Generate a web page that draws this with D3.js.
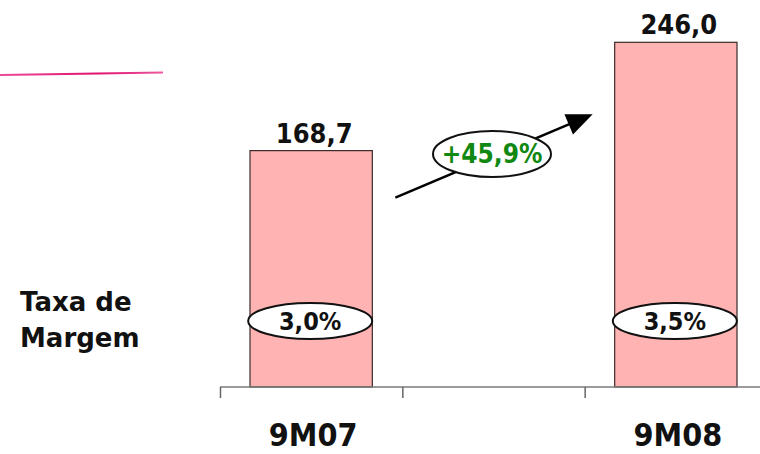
<!DOCTYPE html>
<html><head><meta charset="utf-8">
<script src="https://cdn.jsdelivr.net/npm/d3@7"></script>
<style>
html,body{margin:0;padding:0;background:#fff;}
svg{display:block;}
text{font-weight:bold;}
</style></head>
<body>
<svg id="chart" width="760" height="454"></svg>
<script>
const categories = ["9M07", "", "9M08"];
const values = [168.7, null, 246.0];
const valueLabels = ["168,7", "", "246,0"];
const margins = ["3,0%", "", "3,5%"];
const growthLabel = "+45,9%";
const rowLabel = ["Taxa de", "Margem"];

const svg = d3.select("#chart");
const W = 760, H = 454;
const base = 387;
const COND = "'DejaVu Sans Condensed','DejaVu Sans',sans-serif";

const x = d3.scaleBand().domain(categories).range([220, 767]).padding(0);
const y = d3.scaleLinear().domain([0, 250]).range([base, 36.7]);
const inset = 30;

// decorative pink line
const defs = svg.append("defs");
const grad = defs.append("linearGradient").attr("id","pg");
grad.append("stop").attr("offset","0%").attr("stop-color","#ec4a96");
grad.append("stop").attr("offset","60%").attr("stop-color","#e0106e");
grad.append("stop").attr("offset","100%").attr("stop-color","#ec5aa0");
svg.append("line").attr("x1",0).attr("y1",75).attr("x2",163).attr("y2",72.5)
  .attr("stroke","url(#pg)").attr("stroke-width",2);

const data = categories.map((c,i)=>({c, v: values[i], lab: valueLabels[i], m: margins[i]})).filter(d=>d.v!=null);

// bars
svg.selectAll("rect.bar").data(data).join("rect").attr("class","bar")
  .attr("x", d=>x(d.c)+inset).attr("width", x.bandwidth()-2*inset)
  .attr("y", d=>y(d.v)).attr("height", d=>y(0)-y(d.v))
  .attr("fill","#ffb3b3").attr("stroke","#3a2a2a").attr("stroke-width",1.2);

// axis
svg.append("line").attr("x1", x.range()[0]).attr("x2", W).attr("y1", base).attr("y2", base)
  .attr("stroke","#7a7a7a").attr("stroke-width",1.5);
svg.selectAll("line.tick").data(categories).join("line").attr("class","tick")
  .attr("x1", d=>x(d)+0.5).attr("x2", d=>x(d)+0.5).attr("y1", base).attr("y2", base+11)
  .attr("stroke","#666").attr("stroke-width",1.5);

// category labels
svg.selectAll("text.cat").data(data).join("text").attr("class","cat")
  .attr("x", d=>x(d.c)+x.bandwidth()/2+2).attr("y", 446)
  .attr("text-anchor","middle").style("font-family",COND).style("font-size","32px").attr("fill","#111")
  .text(d=>d.c);

// value labels
svg.selectAll("text.val").data(data).join("text").attr("class","val")
  .attr("x", d=>x(d.c)+x.bandwidth()/2+3).attr("y", d=>y(d.v)-8)
  .attr("text-anchor","middle").style("font-family",COND).style("font-size","27px").attr("fill","#111")
  .text(d=>d.lab);

// margin ellipses
const my = 321;
svg.selectAll("ellipse.m").data(data).join("ellipse").attr("class","m")
  .attr("cx", d=>x(d.c)+x.bandwidth()/2-1).attr("cy", my).attr("rx",62).attr("ry",18)
  .attr("fill","#fff").attr("stroke","#111").attr("stroke-width",2);
svg.selectAll("text.m").data(data).join("text").attr("class","m")
  .attr("x", d=>x(d.c)+x.bandwidth()/2-1).attr("y", my+9)
  .attr("text-anchor","middle").style("font-family",COND).style("font-size","25px").attr("fill","#111")
  .text(d=>d.m);

// row label
svg.append("text").attr("x",20).attr("y",311).style("font-family","'DejaVu Sans',sans-serif")
  .style("font-size","26px").attr("fill","#111").text(rowLabel[0]);
svg.append("text").attr("x",20).attr("y",347).style("font-family","'DejaVu Sans',sans-serif")
  .style("font-size","26px").attr("fill","#111").text(rowLabel[1]);

// growth arrow
const x0 = x(categories[1]) - 7, y0 = y(values[0]) + 47;
const x1 = x(categories[2]) + 8, y1 = y(values[2]) + 72;
const ang = Math.atan2(y1-y0, x1-x0);
const hl = 26, hw = 11;
const bx = x1 - hl*Math.cos(ang), by = y1 - hl*Math.sin(ang);
svg.append("line").attr("x1",x0).attr("y1",y0).attr("x2",bx+2*Math.cos(ang)).attr("y2",by+2*Math.sin(ang))
  .attr("stroke","#000").attr("stroke-width",2.5);
svg.append("path")
  .attr("d", `M${x1},${y1} L${bx + hw*Math.sin(ang)},${by - hw*Math.cos(ang)} L${bx - hw*Math.sin(ang)},${by + hw*Math.cos(ang)} Z`)
  .attr("fill","#000");
const gx = (x0+x1)/2 - 2, gy = (y0+y1)/2 - 2;
svg.append("ellipse").attr("cx",gx).attr("cy",gy).attr("rx",59).attr("ry",23)
  .attr("fill","#fff").attr("stroke","#111").attr("stroke-width",2);
svg.append("text").attr("x",gx).attr("y",gy+9).attr("text-anchor","middle")
  .style("font-family",COND).style("font-size","26px").attr("fill","#118811").text(growthLabel);
</script>
</body></html>
